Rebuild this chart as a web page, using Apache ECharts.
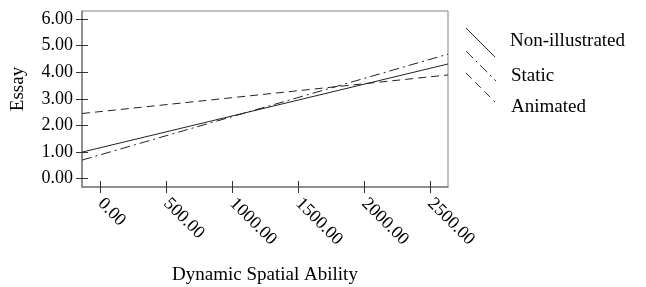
<!DOCTYPE html>
<html><head><meta charset="utf-8">
<script src="https://cdn.jsdelivr.net/npm/echarts@6/dist/echarts.min.js"></script>
<style>html,body{margin:0;padding:0;background:#fff}#c{width:646px;height:287px}</style>
</head><body><div id="c"></div>
<script>
// Data
var xEnds = [-140, 2633];
var nonIllustrated = [1.00, 4.31];
var staticVals = [0.70, 4.68];
var animated = [2.45, 3.90];
var xTicks = [0, 500, 1000, 1500, 2000, 2500];
var yTicks = [0, 1, 2, 3, 4, 5, 6];
var seriesNames = ['Non-illustrated', 'Static', 'Animated'];

var FONT = 'Liberation Serif';
var AX = '#808080';
function pts(v){ return xEnds.map(function(x,i){ return [x, v[i]]; }); }

var chart = echarts.init(document.getElementById('c'));
var lineTypes = ['solid', [10,4,2,4], [8,5]];
var vals = [nonIllustrated, staticVals, animated];

var opt = {
  animation: false,
  grid: {left: 82, right: 198, top: 11, bottom: 100, show: true, borderColor: AX, borderWidth: 1,
    containLabel: false, outerBoundsMode: 'none'},
  xAxis: [{
    type: 'value', min: -140, max: 2633,
    name: 'Dynamic Spatial Ability', nameLocation: 'middle', nameGap: 79,
    nameTextStyle: {fontFamily: FONT, fontSize: 19, color: '#000'},
    axisLine: {show: true, onZero: false, lineStyle: {color: AX, width: 1.5}},
    axisTick: {show: true, length: 6, lineStyle: {color: '#333'}, customValues: xTicks},
    axisLabel: {show: true, rotate: -45, margin: 14, fontFamily: FONT, fontSize: 18, color: '#000',
      customValues: xTicks, formatter: function(v){ return v.toFixed(2); }},
    splitLine: {show: false}
  }, {
    type: 'value', min: -140, max: 2633, position: 'bottom',
    axisLine: {show: false, onZero: false},
    axisTick: {show: true, inside: true, length: 6, lineStyle: {color: '#333'}, customValues: xTicks},
    axisLabel: {show: false}, splitLine: {show: false}
  }],
  yAxis: [{
    type: 'value', min: -0.31, max: 6.3,
    name: 'Essay', nameLocation: 'middle', nameGap: 54,
    nameTextStyle: {fontFamily: FONT, fontSize: 19, color: '#000', padding: [0, 0, 0, 20]},
    axisLine: {show: true, onZero: false, lineStyle: {color: AX, width: 1.5}},
    axisTick: {show: true, length: 6, lineStyle: {color: '#333'}, customValues: yTicks},
    axisLabel: {show: true, margin: 9, fontFamily: FONT, fontSize: 18, color: '#000',
      customValues: yTicks, formatter: function(v){ return v.toFixed(2); }},
    splitLine: {show: false}
  }, {
    type: 'value', min: -0.31, max: 6.3, position: 'left',
    axisLine: {show: false, onZero: false},
    axisTick: {show: true, inside: true, length: 6, lineStyle: {color: '#333'}, customValues: yTicks},
    axisLabel: {show: false}, splitLine: {show: false}
  }],
  series: seriesNames.map(function(n, i){
    return {name: n, type: 'line', data: pts(vals[i]), symbol: 'none',
      lineStyle: {color: '#222', width: 1, type: lineTypes[i]}};
  }),
  graphic: [
    {type: 'line', shape: {x1: 466, y1: 28, x2: 495, y2: 57}, style: {stroke: '#333', lineWidth: 1}},
    {type: 'line', shape: {x1: 466, y1: 51, x2: 496, y2: 81}, style: {stroke: '#333', lineWidth: 1, lineDash: [10,4,2,4]}},
    {type: 'line', shape: {x1: 466, y1: 73, x2: 495, y2: 102}, style: {stroke: '#333', lineWidth: 1, lineDash: [8,5]}},
    {type: 'text', x: 510, y: 41, style: {text: seriesNames[0], font: '19px "Liberation Serif"', fill: '#000', textVerticalAlign: 'middle'}},
    {type: 'text', x: 511, y: 76, style: {text: seriesNames[1], font: '19px "Liberation Serif"', fill: '#000', textVerticalAlign: 'middle'}},
    {type: 'text', x: 511, y: 107, style: {text: seriesNames[2], font: '19px "Liberation Serif"', fill: '#000', textVerticalAlign: 'middle'}}
  ]
};
chart.setOption(opt);
</script></body></html>
